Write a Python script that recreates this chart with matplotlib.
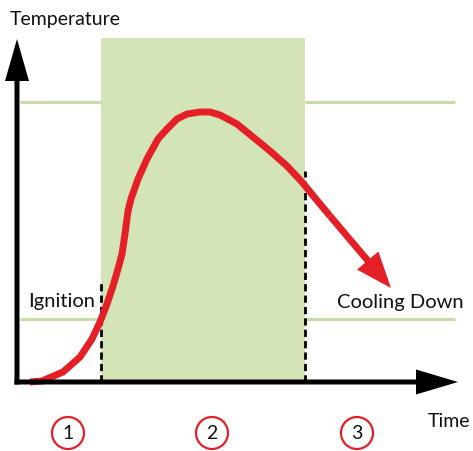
import matplotlib
matplotlib.use("Agg")
import matplotlib.pyplot as plt
from matplotlib.patches import Rectangle, Circle

# ---- data (time, temperature units; origin at axes corner) ----
curve_time = [13, 25, 46, 63, 75, 83, 90, 96, 101, 105, 108, 111, 114, 121, 130, 141, 150,
              160, 170, 183, 193, 203, 220, 236, 253, 270, 285, 298, 313]
curve_temp = [0, 1, 10, 25, 43, 60, 78, 96, 113, 128, 148, 171, 183, 203, 223, 243, 253,
              263, 268, 270, 270, 267, 258, 245, 231, 216, 200, 184, 166]
arrow_tip = (374, 94)

ignition_end = 84
cooling_start = 288
phase_top = 344
ignition_temp = 63
flame_temp = 280
left_dash_top = 100
right_dash_top = 211

phase_labels = ["1", "2", "3"]
phase_label_time = [51, 195, 340]

# ---- figure ----
fig = plt.figure(figsize=(4.73, 4.52), dpi=100)
ax = fig.add_axes([0, 0, 1, 1])
ax.set_xlim(-17, 456)
ax.set_ylim(-69, 383)
ax.axis("off")

GREEN_FILL = "#d3e4b6"
GREEN_LINE = "#c8dcaa"
RED = "#e41f26"

ax.add_patch(Rectangle((ignition_end, 0), cooling_start - ignition_end, phase_top,
                       facecolor=GREEN_FILL, edgecolor="none", zorder=1))

for t in (ignition_temp, flame_temp):
    ax.plot([3, ignition_end], [t, t], color=GREEN_LINE, lw=2.2, zorder=1, solid_capstyle="butt")
    ax.plot([cooling_start, 438], [t, t], color=GREEN_LINE, lw=2.2, zorder=1, solid_capstyle="butt")

ax.plot([ignition_end, ignition_end], [0, left_dash_top], color="black", lw=2,
        linestyle=(0, (2.6, 1.5)), zorder=2)
ax.plot([cooling_start, cooling_start], [0, right_dash_top], color="black", lw=2,
        linestyle=(0, (2.6, 1.5)), zorder=2)

ax.plot(curve_time, curve_temp, color=RED, lw=5, solid_capstyle="butt",
        solid_joinstyle="round", zorder=3)
ax.arrow(curve_time[-1], curve_temp[-1], arrow_tip[0] - curve_time[-1], arrow_tip[1] - curve_temp[-1],
         width=6.8, head_width=28, head_length=36, length_includes_head=True,
         color=RED, linewidth=0, zorder=3)

# axes arrows
ax.arrow(0, -2.5, 0, 343 + 2.5, width=5, head_width=24, head_length=42,
         length_includes_head=True, color="black", linewidth=0, zorder=4)
ax.arrow(-2.5, 0, 441 + 2.5, 0, width=5, head_width=25, head_length=42,
         length_includes_head=True, color="black", linewidth=0, zorder=4)

font = dict(family=["Lato", "DejaVu Sans"], color="#111111")
ax.text(-7, 358, "Temperature", fontsize=14, va="baseline", ha="left", **font)
ax.text(11, 76, "Ignition", fontsize=14.5, va="baseline", ha="left", **font)
ax.text(320, 75, "Cooling Down", fontsize=14.5, va="baseline", ha="left", **font)
ax.text(453, -44, "Time", fontsize=14, va="baseline", ha="right", **font)

for lab, t in zip(phase_labels, phase_label_time):
    ax.add_patch(Circle((t, -51), 16, facecolor="white", edgecolor=RED, lw=1.6, zorder=3))
    ax.text(t, -51, lab, fontsize=14, ha="center", va="center", **font)

fig.savefig("out.png", dpi=100)
